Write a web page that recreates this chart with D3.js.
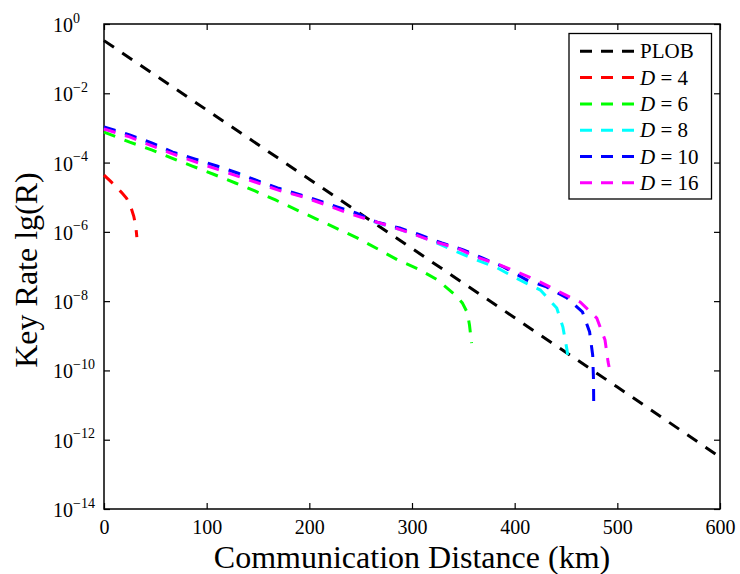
<!DOCTYPE html>
<html>

<head>
  <title>Key Rate vs Communication Distance</title>
  <meta charset="UTF-8" />
  <script src="https://cdn.jsdelivr.net/npm/d3@7"></script>
</head>

<style>
  body {
    margin: 0;
    background: white;
  }

  svg {
    font-family: 'Liberation Serif', 'Times New Roman', serif;
  }
</style>

<body>
  <svg></svg>
  <script>
    // values: distance in km, rate as log10(R)
    const xTicks = [0, 100, 200, 300, 400, 500, 600];
    const yTickExps = [0, -2, -4, -6, -8, -10, -12, -14];

    const plobKm = [0, 100, 200, 300, 400, 500, 600];
    const plobLog = [-0.48, -2.48, -4.48, -6.48, -8.48, -10.48, -12.5];

    const d4Km = [0, 6, 12, 17, 22, 26, 29, 31, 32];
    const d4Log = [-4.36, -4.53, -4.70, -4.86, -5.03, -5.27, -5.55, -5.85, -6.15];

    const d6Km = [0, 25, 47, 66, 86, 106, 128, 147, 167, 188, 207, 228, 247, 267, 286, 306, 325, 342, 349, 354, 356, 358];
    const d6Log = [-3.12, -3.41, -3.64, -3.87, -4.10, -4.33, -4.59, -4.82, -5.08, -5.37, -5.63, -5.92, -6.18, -6.50, -6.81, -7.07, -7.39, -7.82, -8.05, -8.34, -8.69, -9.21];

    const d8Km = [0, 25, 47, 67, 89, 110, 130, 150, 169, 201, 227, 246, 266, 288, 308, 324, 344, 363, 383, 405, 425, 441, 447, 451, 451.5];
    const d8Log = [-3.00, -3.23, -3.47, -3.72, -3.93, -4.12, -4.32, -4.54, -4.75, -5.05, -5.30, -5.49, -5.74, -5.93, -6.13, -6.32, -6.58, -6.81, -7.04, -7.39, -7.68, -8.20, -8.75, -9.41, -9.55];

    const d10Km = [0, 25, 47, 67, 89, 110, 130, 150, 169, 201, 227, 246, 266, 288, 308, 329, 350, 369, 389, 412, 431, 451, 466, 473, 476, 476.8, 477];
    const d10Log = [-2.97, -3.20, -3.44, -3.70, -3.90, -4.10, -4.30, -4.53, -4.73, -5.02, -5.28, -5.46, -5.72, -5.89, -6.09, -6.32, -6.52, -6.76, -7.01, -7.39, -7.59, -7.91, -8.31, -8.89, -9.56, -10.28, -11.0];

    const d16Km = [0, 25, 47, 67, 89, 110, 130, 150, 169, 194, 217, 238, 259, 281, 301, 322, 344, 363, 386, 405, 425, 444, 464, 480, 488, 491, 492];
    const d16Log = [-3.03, -3.26, -3.52, -3.75, -3.98, -4.19, -4.39, -4.59, -4.79, -4.99, -5.23, -5.46, -5.66, -5.86, -6.06, -6.29, -6.47, -6.73, -6.96, -7.19, -7.45, -7.74, -8.03, -8.49, -9.12, -9.76, -9.90];

    const seriesNames = ['PLOB', '4', '6', '8', '10', '16'];
    const seriesColors = ['#000000', '#ff0000', '#00ff00', '#00ffff', '#0000ff', '#ff00ff'];

    let series = [
      [plobKm, plobLog],
      [d4Km, d4Log],
      [d6Km, d6Log],
      [d8Km, d8Log],
      [d10Km, d10Log],
      [d16Km, d16Log],
    ].map((s, i) => ({
      name: seriesNames[i],
      color: seriesColors[i],
      points: s[0].map((km, j) => [km, Math.pow(10, s[1][j])]),
    }));

    let width = 740,
      height = 574;
    let plotLeft = 104, plotRight = 720, plotTop = 24, plotBottom = 509;

    let svg = d3.select('svg').attr('width', width).attr('height', height);

    let x = d3.scaleLinear().domain([0, 600]).range([plotLeft, plotRight]);
    let y = d3.scaleLog().domain([1e-14, 1]).range([plotBottom, plotTop]);

    // axes with inward ticks
    svg
      .append('g')
      .attr('transform', 'translate(0,' + plotBottom + ')')
      .call(d3.axisBottom(x).tickValues(xTicks).tickSize(-6).tickPadding(11).tickSizeOuter(0))
      .attr('font-family', null)
      .attr('font-size', 20)
      .call(g => g.select('.domain').remove())
      .call(g => g.selectAll('text').attr('fill', '#000'));

    svg
      .append('g')
      .attr('transform', 'translate(0,' + plotTop + ')')
      .call(d3.axisTop(x).tickValues(xTicks).tickSize(-6).tickFormat('').tickSizeOuter(0))
      .call(g => g.select('.domain').remove());

    let yTickVals = yTickExps.map(e => Math.pow(10, e));

    svg
      .append('g')
      .attr('transform', 'translate(' + plotLeft + ',0)')
      .call(d3.axisLeft(y).tickValues(yTickVals).tickSize(-6).tickFormat('').tickSizeOuter(0))
      .call(g => g.select('.domain').remove());

    svg
      .append('g')
      .attr('transform', 'translate(' + plotRight + ',0)')
      .call(d3.axisRight(y).tickValues(yTickVals).tickSize(-6).tickFormat('').tickSizeOuter(0))
      .call(g => g.select('.domain').remove());

    svg.selectAll('.tick line').attr('stroke', '#000').attr('stroke-width', 1.2);

    // y labels 10^e
    let yLabels = svg
      .append('g')
      .selectAll('text')
      .data(yTickExps)
      .enter()
      .append('text')
      .attr('x', 53)
      .attr('y', e => y(Math.pow(10, e)) + 8)
      .attr('font-size', 20)
      .attr('fill', '#000');
    yLabels.append('tspan').text('10');
    yLabels
      .append('tspan')
      .attr('dy', -9.5)
      .attr('font-size', 14)
      .text(e => (e < 0 ? '\u2212' + -e : '' + e));

    // frame
    svg
      .append('rect')
      .attr('x', plotLeft)
      .attr('y', plotTop)
      .attr('width', plotRight - plotLeft)
      .attr('height', plotBottom - plotTop)
      .attr('fill', 'none')
      .attr('stroke', '#000')
      .attr('stroke-width', 1.5);

    // curves
    let line = d3
      .line()
      .x(d => x(d[0]))
      .y(d => y(d[1]));

    svg
      .append('g')
      .selectAll('path')
      .data(series)
      .enter()
      .append('path')
      .attr('d', d => line(d.points))
      .attr('fill', 'none')
      .attr('stroke', d => d.color)
      .attr('stroke-width', 3)
      .attr('stroke-dasharray', '12,10');

    // axis titles
    svg
      .append('text')
      .attr('x', (plotLeft + plotRight) / 2)
      .attr('y', 568)
      .attr('text-anchor', 'middle')
      .attr('font-size', 32)
      .text('Communication Distance (km)');

    svg
      .append('text')
      .attr('transform', 'translate(37,270) rotate(-90)')
      .attr('text-anchor', 'middle')
      .attr('font-size', 32)
      .text('Key Rate lg(R)');

    // legend
    let legend = svg.append('g');
    legend
      .append('rect')
      .attr('x', 569)
      .attr('y', 33.5)
      .attr('width', 142.5)
      .attr('height', 165.5)
      .attr('fill', 'white')
      .attr('stroke', '#000')
      .attr('stroke-width', 1.3);

    let rows = legend
      .selectAll('g.row')
      .data(series)
      .enter()
      .append('g')
      .attr('class', 'row')
      .attr('transform', (d, i) => 'translate(0,' + (58.3 + i * 26.3) + ')');

    rows
      .append('line')
      .attr('x1', 580)
      .attr('x2', 634)
      .attr('y1', -7)
      .attr('y2', -7)
      .attr('stroke', d => d.color)
      .attr('stroke-width', 3)
      .attr('stroke-dasharray', '12,9');

    let labels = rows
      .append('text')
      .attr('x', 640)
      .attr('y', 0)
      .attr('font-size', 21)
      .attr('fill', '#000');

    labels.each(function (d) {
      let t = d3.select(this);
      if (d.name == 'PLOB') {
        t.text('PLOB');
      } else {
        t.append('tspan').attr('font-style', 'italic').text('D');
        t.append('tspan').text(' = ' + d.name);
      }
    });
  </script>
</body>

</html>
